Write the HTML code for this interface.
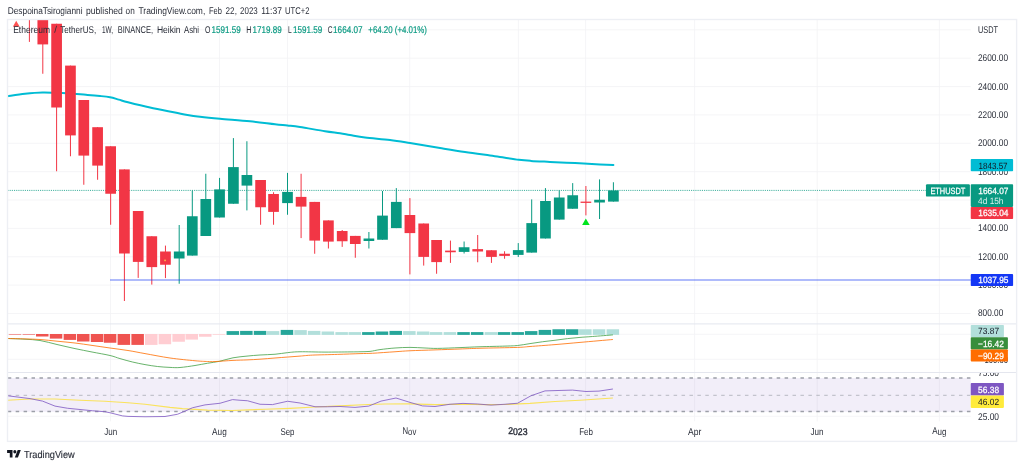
<!DOCTYPE html>
<html lang="en"><head><meta charset="utf-8"><title>ETHUSDT chart</title>
<style>
html,body{margin:0;padding:0;background:#fff;}
body{width:1024px;height:467px;overflow:hidden;}
svg{display:block;will-change:transform;transform:translateZ(0);font-family:"Liberation Sans",sans-serif;}
</style></head><body>
<svg width="1024" height="467" viewBox="0 0 1024 467">
<defs>
<clipPath id="cm"><rect x="7.5" y="19.5" width="1009.1" height="304.1"/></clipPath>
<clipPath id="cmacd"><rect x="7.5" y="323.6" width="963.25" height="48.89999999999998"/></clipPath>
<clipPath id="cax"><rect x="970" y="372.9" width="50" height="60"/></clipPath>
<clipPath id="crsi"><rect x="7.5" y="372.5" width="963.25" height="48.80000000000001"/></clipPath>
</defs>
<rect width="1024" height="467" fill="#fff"/>
<line x1="110.5" y1="19.5" x2="110.5" y2="421.3" stroke="#f3f3f5" stroke-width="0.8"/>
<line x1="219.5" y1="19.5" x2="219.5" y2="421.3" stroke="#f3f3f5" stroke-width="0.8"/>
<line x1="287.5" y1="19.5" x2="287.5" y2="421.3" stroke="#f3f3f5" stroke-width="0.8"/>
<line x1="409.7" y1="19.5" x2="409.7" y2="421.3" stroke="#f3f3f5" stroke-width="0.8"/>
<line x1="518.4" y1="19.5" x2="518.4" y2="421.3" stroke="#f3f3f5" stroke-width="0.8"/>
<line x1="585.6" y1="19.5" x2="585.6" y2="421.3" stroke="#f3f3f5" stroke-width="0.8"/>
<line x1="694.6" y1="19.5" x2="694.6" y2="421.3" stroke="#f3f3f5" stroke-width="0.8"/>
<line x1="817.2" y1="19.5" x2="817.2" y2="421.3" stroke="#f3f3f5" stroke-width="0.8"/>
<line x1="939.4" y1="19.5" x2="939.4" y2="421.3" stroke="#f3f3f5" stroke-width="0.8"/>
<line x1="7.5" y1="29.85" x2="970.75" y2="29.85" stroke="#f3f3f5" stroke-width="0.8"/>
<line x1="7.5" y1="58.21" x2="970.75" y2="58.21" stroke="#f3f3f5" stroke-width="0.8"/>
<line x1="7.5" y1="86.57" x2="970.75" y2="86.57" stroke="#f3f3f5" stroke-width="0.8"/>
<line x1="7.5" y1="114.93" x2="970.75" y2="114.93" stroke="#f3f3f5" stroke-width="0.8"/>
<line x1="7.5" y1="143.29" x2="970.75" y2="143.29" stroke="#f3f3f5" stroke-width="0.8"/>
<line x1="7.5" y1="171.65" x2="970.75" y2="171.65" stroke="#f3f3f5" stroke-width="0.8"/>
<line x1="7.5" y1="200.01" x2="970.75" y2="200.01" stroke="#f3f3f5" stroke-width="0.8"/>
<line x1="7.5" y1="228.37" x2="970.75" y2="228.37" stroke="#f3f3f5" stroke-width="0.8"/>
<line x1="7.5" y1="256.73" x2="970.75" y2="256.73" stroke="#f3f3f5" stroke-width="0.8"/>
<line x1="7.5" y1="285.09" x2="970.75" y2="285.09" stroke="#f3f3f5" stroke-width="0.8"/>
<line x1="7.5" y1="313.45" x2="970.75" y2="313.45" stroke="#f3f3f5" stroke-width="0.8"/>
<line x1="7.5" y1="334.3" x2="970.75" y2="334.3" stroke="#f3f3f5" stroke-width="0.8"/>
<line x1="7.5" y1="359.3" x2="970.75" y2="359.3" stroke="#f3f3f5" stroke-width="0.8"/>
<line x1="7.5" y1="416.3" x2="970.75" y2="416.3" stroke="#f3f3f5" stroke-width="0.8"/>
<rect x="7.5" y="378" width="963.25" height="33.75" fill="#7e57c2" fill-opacity="0.1"/>
<line x1="7.75" y1="378.1" x2="970.75" y2="378.1" stroke="#9c9fa8" stroke-width="1.5" stroke-dasharray="3.5 4.427"/>
<line x1="7.75" y1="395.3" x2="970.75" y2="395.3" stroke="#b0b3bb" stroke-width="0.9" stroke-dasharray="3.5 4.427"/>
<line x1="7.75" y1="411.6" x2="970.75" y2="411.6" stroke="#9c9fa8" stroke-width="1.5" stroke-dasharray="3.5 4.427"/>
<g clip-path="url(#cm)">
<path fill="none" stroke="#00bcd4" stroke-width="2" stroke-linejoin="round" stroke-linecap="round" d="M7.5,96.25 C10.42,95.83 19.17,94.38 25,93.75 C30.83,93.12 36.25,92.61 42.5,92.5 C48.75,92.39 55.00,92.70 62.5,93.1 C70.00,93.50 81.25,94.42 87.5,94.9 C93.75,95.38 96.25,95.60 100,96 C103.75,96.40 106.88,96.70 110,97.3 C113.12,97.90 115.75,98.78 118.75,99.6 C121.75,100.42 122.79,100.88 128,102.2 C133.21,103.52 142.17,105.78 150,107.5 C157.83,109.22 168.75,111.25 175,112.5 C181.25,113.75 183.33,114.29 187.5,115 C191.67,115.71 194.58,116.12 200,116.75 C205.42,117.38 211.67,118.00 220,118.75 C228.33,119.50 240.83,120.33 250,121.25 C259.17,122.17 268.75,123.54 275,124.25 C281.25,124.96 283.33,125.04 287.5,125.5 C291.67,125.96 293.75,126.04 300,127 C306.25,127.96 318.33,130.21 325,131.25 C331.67,132.29 335.83,132.62 340,133.25 C344.17,133.88 345.83,134.29 350,135 C354.17,135.71 358.33,136.67 365,137.5 C371.67,138.33 382.50,139.08 390,140 C397.50,140.92 401.67,141.67 410,143 C418.33,144.33 430.83,146.50 440,148 C449.17,149.50 456.67,150.75 465,152 C473.33,153.25 484.17,154.68 490,155.5 C495.83,156.32 495.21,156.19 500,156.9 C504.79,157.61 513.58,159.08 518.75,159.75 C523.92,160.42 525.79,160.54 531,160.9 C536.21,161.26 542.67,161.53 550,161.9 C557.33,162.27 566.67,162.68 575,163.1 C583.33,163.52 593.60,164.08 600,164.4 C606.40,164.72 611.17,164.90 613.4,165"/>
<line x1="7.5" y1="190.4" x2="926" y2="190.4" stroke="#089981" stroke-opacity="0.8" stroke-width="1" stroke-dasharray="1.08 1.09"/>
<line x1="29.40" y1="10" x2="29.40" y2="41.9" stroke="#f23645" stroke-width="1"/>
<rect x="24.05" y="-50" width="10.7" height="60.00" fill="#f23645"/>
<line x1="42.80" y1="10" x2="42.80" y2="73.75" stroke="#f23645" stroke-width="1"/>
<rect x="37.45" y="10" width="10.7" height="34.40" fill="#f23645"/>
<line x1="56.60" y1="23.75" x2="56.60" y2="171.25" stroke="#f23645" stroke-width="1"/>
<rect x="51.25" y="23.75" width="10.7" height="83.75" fill="#f23645"/>
<line x1="70.45" y1="65.6" x2="70.45" y2="156.25" stroke="#f23645" stroke-width="1"/>
<rect x="65.10" y="65.6" width="10.7" height="69.80" fill="#f23645"/>
<line x1="83.80" y1="100" x2="83.80" y2="184.75" stroke="#f23645" stroke-width="1"/>
<rect x="78.45" y="100" width="10.7" height="55.60" fill="#f23645"/>
<line x1="97.60" y1="127.2" x2="97.60" y2="179.75" stroke="#f23645" stroke-width="1"/>
<rect x="92.25" y="127.2" width="10.7" height="38.40" fill="#f23645"/>
<line x1="110.65" y1="146.25" x2="110.65" y2="224.75" stroke="#f23645" stroke-width="1"/>
<rect x="105.30" y="146.25" width="10.7" height="47.50" fill="#f23645"/>
<line x1="124.40" y1="169.4" x2="124.40" y2="301" stroke="#f23645" stroke-width="1"/>
<rect x="119.05" y="169.4" width="10.7" height="84.10" fill="#f23645"/>
<line x1="138.20" y1="211" x2="138.20" y2="277.9" stroke="#f23645" stroke-width="1"/>
<rect x="132.85" y="211" width="10.7" height="50.90" fill="#f23645"/>
<line x1="151.80" y1="236.25" x2="151.80" y2="284.6" stroke="#f23645" stroke-width="1"/>
<rect x="146.45" y="236.25" width="10.7" height="30.85" fill="#f23645"/>
<line x1="165.45" y1="245.6" x2="165.45" y2="278.1" stroke="#f23645" stroke-width="1"/>
<rect x="160.10" y="251.5" width="10.7" height="13.25" fill="#f23645"/>
<line x1="179.20" y1="225" x2="179.20" y2="283.75" stroke="#089981" stroke-width="1"/>
<rect x="173.85" y="251.5" width="10.7" height="7.00" fill="#089981"/>
<line x1="192.30" y1="190.6" x2="192.30" y2="255.6" stroke="#089981" stroke-width="1"/>
<rect x="186.95" y="216.25" width="10.7" height="39.35" fill="#089981"/>
<line x1="205.80" y1="173.75" x2="205.80" y2="236" stroke="#089981" stroke-width="1"/>
<rect x="200.45" y="199" width="10.7" height="37.00" fill="#089981"/>
<line x1="219.55" y1="177.9" x2="219.55" y2="217.5" stroke="#089981" stroke-width="1"/>
<rect x="214.20" y="189.4" width="10.7" height="28.10" fill="#089981"/>
<line x1="233.40" y1="138.1" x2="233.40" y2="203.75" stroke="#089981" stroke-width="1"/>
<rect x="228.05" y="167.1" width="10.7" height="36.65" fill="#089981"/>
<line x1="246.90" y1="141.25" x2="246.90" y2="210.4" stroke="#089981" stroke-width="1"/>
<rect x="241.55" y="175" width="10.7" height="10.60" fill="#089981"/>
<line x1="260.60" y1="180" x2="260.60" y2="224.75" stroke="#f23645" stroke-width="1"/>
<rect x="255.25" y="180" width="10.7" height="27.25" fill="#f23645"/>
<line x1="273.55" y1="192.25" x2="273.55" y2="224.75" stroke="#f23645" stroke-width="1"/>
<rect x="268.20" y="194" width="10.7" height="17.90" fill="#f23645"/>
<line x1="287.50" y1="172.9" x2="287.50" y2="214.75" stroke="#089981" stroke-width="1"/>
<rect x="282.15" y="191.9" width="10.7" height="11.20" fill="#089981"/>
<line x1="301.10" y1="173.75" x2="301.10" y2="238.1" stroke="#f23645" stroke-width="1"/>
<rect x="295.75" y="196.9" width="10.7" height="9.70" fill="#f23645"/>
<line x1="314.70" y1="201.9" x2="314.70" y2="253.75" stroke="#f23645" stroke-width="1"/>
<rect x="309.35" y="201.9" width="10.7" height="38.70" fill="#f23645"/>
<line x1="328.40" y1="220.4" x2="328.40" y2="248.5" stroke="#f23645" stroke-width="1"/>
<rect x="323.05" y="220.4" width="10.7" height="21.20" fill="#f23645"/>
<line x1="342.20" y1="230" x2="342.20" y2="246.9" stroke="#f23645" stroke-width="1"/>
<rect x="336.85" y="231" width="10.7" height="10.25" fill="#f23645"/>
<line x1="355.30" y1="235.9" x2="355.30" y2="257.75" stroke="#f23645" stroke-width="1"/>
<rect x="349.95" y="235.9" width="10.7" height="8.10" fill="#f23645"/>
<line x1="368.90" y1="232" x2="368.90" y2="248.5" stroke="#089981" stroke-width="1"/>
<rect x="363.55" y="238.5" width="10.7" height="2.50" fill="#089981"/>
<line x1="382.50" y1="191" x2="382.50" y2="239.75" stroke="#089981" stroke-width="1"/>
<rect x="377.15" y="215.6" width="10.7" height="24.15" fill="#089981"/>
<line x1="396.30" y1="188.1" x2="396.30" y2="228.1" stroke="#089981" stroke-width="1"/>
<rect x="390.95" y="201.9" width="10.7" height="26.20" fill="#089981"/>
<line x1="409.90" y1="198.1" x2="409.90" y2="274.4" stroke="#f23645" stroke-width="1"/>
<rect x="404.55" y="215" width="10.7" height="18.10" fill="#f23645"/>
<line x1="423.70" y1="223.5" x2="423.70" y2="265.6" stroke="#f23645" stroke-width="1"/>
<rect x="418.35" y="223.5" width="10.7" height="33.40" fill="#f23645"/>
<line x1="436.60" y1="240" x2="436.60" y2="273.75" stroke="#f23645" stroke-width="1"/>
<rect x="431.25" y="240" width="10.7" height="22.10" fill="#f23645"/>
<line x1="450.45" y1="240.6" x2="450.45" y2="262.9" stroke="#f23645" stroke-width="1"/>
<rect x="445.10" y="250.6" width="10.7" height="1.65" fill="#f23645"/>
<line x1="464.10" y1="241.5" x2="464.10" y2="253.5" stroke="#089981" stroke-width="1"/>
<rect x="458.75" y="247.25" width="10.7" height="4.65" fill="#089981"/>
<line x1="477.70" y1="235" x2="477.70" y2="262.25" stroke="#f23645" stroke-width="1"/>
<rect x="472.35" y="249.1" width="10.7" height="2.40" fill="#f23645"/>
<line x1="491.45" y1="250.25" x2="491.45" y2="262.9" stroke="#f23645" stroke-width="1"/>
<rect x="486.10" y="250.25" width="10.7" height="6.65" fill="#f23645"/>
<line x1="504.55" y1="251.25" x2="504.55" y2="258.75" stroke="#f23645" stroke-width="1"/>
<rect x="499.20" y="253.75" width="10.7" height="2.15" fill="#f23645"/>
<line x1="518.25" y1="243.1" x2="518.25" y2="257" stroke="#089981" stroke-width="1"/>
<rect x="512.90" y="250.1" width="10.7" height="4.80" fill="#089981"/>
<line x1="531.70" y1="199.4" x2="531.70" y2="252.6" stroke="#089981" stroke-width="1"/>
<rect x="526.35" y="223.1" width="10.7" height="29.50" fill="#089981"/>
<line x1="545.45" y1="188.1" x2="545.45" y2="238.5" stroke="#089981" stroke-width="1"/>
<rect x="540.10" y="201" width="10.7" height="37.50" fill="#089981"/>
<line x1="559.25" y1="190.4" x2="559.25" y2="219.6" stroke="#089981" stroke-width="1"/>
<rect x="553.90" y="197.5" width="10.7" height="22.10" fill="#089981"/>
<line x1="572.70" y1="183.1" x2="572.70" y2="208.75" stroke="#089981" stroke-width="1"/>
<rect x="567.35" y="195.25" width="10.7" height="13.50" fill="#089981"/>
<line x1="585.90" y1="186" x2="585.90" y2="215.4" stroke="#f23645" stroke-width="1"/>
<rect x="580.55" y="201.6" width="10.7" height="1.30" fill="#f23645"/>
<line x1="599.55" y1="179.4" x2="599.55" y2="219" stroke="#089981" stroke-width="1"/>
<rect x="594.20" y="199.75" width="10.7" height="2.75" fill="#089981"/>
<line x1="613.40" y1="182.25" x2="613.40" y2="201.6" stroke="#089981" stroke-width="1"/>
<rect x="608.05" y="190.4" width="10.7" height="11.20" fill="#089981"/>
<line x1="110" y1="280" x2="970.75" y2="280" stroke="#1437f5" stroke-opacity="0.45" stroke-width="1.6"/>
<rect x="164.4" y="259.6" width="1.3" height="1.6" fill="#ffd54f"/>
<polygon points="16.2,20.8 19.7,26.7 12.8,26.7" fill="#ff5252"/>
<polygon points="585.8,218.6 589.7,225.1 582.1,225.1" fill="#00e41e"/>
</g>
<g clip-path="url(#cmacd)">
<rect x="-4.87" y="334.0" width="12.5" height="0.90" fill="#26a69a"/>
<rect x="8.72" y="334.0" width="12.5" height="0.55" fill="#ef5350"/>
<rect x="22.60" y="334.0" width="12.5" height="0.60" fill="#ef5350"/>
<rect x="36.00" y="334.0" width="12.5" height="2.50" fill="#ef5350"/>
<rect x="49.80" y="334.0" width="12.5" height="4.60" fill="#ef5350"/>
<rect x="63.65" y="334.0" width="12.5" height="5.90" fill="#ef5350"/>
<rect x="77.00" y="334.0" width="12.5" height="7.50" fill="#ef5350"/>
<rect x="90.80" y="334.0" width="12.5" height="8.00" fill="#ef5350"/>
<rect x="103.85" y="334.0" width="12.5" height="8.75" fill="#ef5350"/>
<rect x="117.60" y="334.0" width="12.5" height="10.90" fill="#ef5350"/>
<rect x="131.40" y="334.0" width="12.5" height="10.90" fill="#ef5350"/>
<rect x="145.00" y="334.0" width="12.5" height="10.90" fill="#ffcdd2"/>
<rect x="158.65" y="334.0" width="12.5" height="10.25" fill="#ffcdd2"/>
<rect x="172.40" y="334.0" width="12.5" height="7.75" fill="#ffcdd2"/>
<rect x="185.50" y="334.0" width="12.5" height="5.60" fill="#ffcdd2"/>
<rect x="199.00" y="334.0" width="12.5" height="2.75" fill="#ffcdd2"/>
<rect x="212.75" y="334.0" width="12.5" height="0.70" fill="#ffcdd2"/>
<rect x="226.60" y="331.1" width="12.5" height="3.80" fill="#26a69a"/>
<rect x="240.10" y="330.9" width="12.5" height="4.00" fill="#26a69a"/>
<rect x="253.80" y="330.9" width="12.5" height="4.00" fill="#26a69a"/>
<rect x="266.75" y="331.1" width="12.5" height="3.80" fill="#b2dfdb"/>
<rect x="280.70" y="329.9" width="12.5" height="5.00" fill="#26a69a"/>
<rect x="294.30" y="330.1" width="12.5" height="4.80" fill="#b2dfdb"/>
<rect x="307.90" y="330.9" width="12.5" height="4.00" fill="#b2dfdb"/>
<rect x="321.60" y="331.5" width="12.5" height="3.40" fill="#b2dfdb"/>
<rect x="335.40" y="332.1" width="12.5" height="2.80" fill="#b2dfdb"/>
<rect x="348.50" y="332.1" width="12.5" height="2.80" fill="#b2dfdb"/>
<rect x="362.10" y="332.1" width="12.5" height="2.80" fill="#26a69a"/>
<rect x="375.70" y="331.5" width="12.5" height="3.40" fill="#26a69a"/>
<rect x="389.50" y="330.9" width="12.5" height="4.00" fill="#26a69a"/>
<rect x="403.10" y="331.1" width="12.5" height="3.80" fill="#b2dfdb"/>
<rect x="416.90" y="331.5" width="12.5" height="3.40" fill="#b2dfdb"/>
<rect x="429.80" y="332.1" width="12.5" height="2.80" fill="#b2dfdb"/>
<rect x="443.65" y="332.1" width="12.5" height="2.80" fill="#b2dfdb"/>
<rect x="457.30" y="332.1" width="12.5" height="2.80" fill="#26a69a"/>
<rect x="470.90" y="332.1" width="12.5" height="2.80" fill="#26a69a"/>
<rect x="484.65" y="332.1" width="12.5" height="2.80" fill="#b2dfdb"/>
<rect x="497.75" y="332.1" width="12.5" height="2.80" fill="#26a69a"/>
<rect x="511.45" y="332.1" width="12.5" height="2.80" fill="#26a69a"/>
<rect x="524.90" y="331.1" width="12.5" height="3.80" fill="#26a69a"/>
<rect x="538.65" y="329.9" width="12.5" height="5.00" fill="#26a69a"/>
<rect x="552.45" y="329.25" width="12.5" height="5.65" fill="#26a69a"/>
<rect x="565.90" y="329.25" width="12.5" height="5.65" fill="#26a69a"/>
<rect x="579.10" y="329.25" width="12.5" height="5.65" fill="#b2dfdb"/>
<rect x="592.75" y="329.25" width="12.5" height="5.65" fill="#b2dfdb"/>
<rect x="606.60" y="329.25" width="12.5" height="5.65" fill="#b2dfdb"/>
<path fill="none" stroke="#43a047" stroke-opacity="0.85" stroke-width="0.95" stroke-linejoin="round" d="M7.5,338.5 C10.42,338.62 19.58,338.87 25,339.2 C30.42,339.53 34.67,339.62 40,340.5 C45.33,341.38 51.17,343.15 57,344.5 C62.83,345.85 69.17,347.35 75,348.6 C80.83,349.85 86.17,350.85 92,352 C97.83,353.15 105.33,354.40 110,355.5 C114.67,356.60 116.25,357.52 120,358.6 C123.75,359.68 128.33,361.00 132.5,362 C136.67,363.00 140.83,363.85 145,364.6 C149.17,365.35 153.33,366.03 157.5,366.5 C161.67,366.97 166.25,367.23 170,367.4 C173.75,367.57 175.83,367.82 180,367.5 C184.17,367.18 190.42,366.21 195,365.5 C199.58,364.79 203.42,363.95 207.5,363.25 C211.58,362.55 215.25,362.21 219.5,361.3 C223.75,360.39 228.42,358.67 233,357.8 C237.58,356.93 242.50,356.57 247,356.1 C251.50,355.63 255.33,355.31 260,355 C264.67,354.69 270.42,354.64 275,354.25 C279.58,353.86 283.33,353.07 287.5,352.65 C291.67,352.23 293.75,351.84 300,351.75 C306.25,351.66 316.67,352.08 325,352.1 C333.33,352.12 344.17,351.96 350,351.9 C355.83,351.84 356.67,351.83 360,351.75 C363.33,351.67 366.67,351.76 370,351.4 C373.33,351.04 375.83,350.17 380,349.6 C384.17,349.03 390.00,348.37 395,348 C400.00,347.63 405.00,347.40 410,347.4 C415.00,347.40 420.42,347.83 425,348 C429.58,348.17 431.67,348.47 437.5,348.4 C443.33,348.33 452.92,347.88 460,347.6 C467.08,347.33 472.50,347.00 480,346.75 C487.50,346.50 498.75,346.31 505,346.1 C511.25,345.89 513.33,345.92 517.5,345.5 C521.67,345.08 525.83,344.23 530,343.6 C534.17,342.98 538.33,342.31 542.5,341.75 C546.67,341.19 550.83,340.77 555,340.25 C559.17,339.73 563.33,339.08 567.5,338.6 C571.67,338.12 575.83,337.75 580,337.4 C584.17,337.05 587.02,336.92 592.5,336.5 C597.98,336.08 609.50,335.17 612.9,334.9"/>
<path fill="none" stroke="#ff6d00" stroke-opacity="0.85" stroke-width="0.95" stroke-linejoin="round" d="M7.5,338.5 C10.42,338.57 19.58,338.73 25,338.9 C30.42,339.07 34.67,339.12 40,339.5 C45.33,339.88 51.17,340.62 57,341.2 C62.83,341.78 69.17,342.30 75,343 C80.83,343.70 86.17,344.57 92,345.4 C97.83,346.23 104.00,347.15 110,348 C116.00,348.85 122.17,349.57 128,350.5 C133.83,351.43 138.00,352.35 145,353.6 C152.00,354.85 161.67,356.81 170,358 C178.33,359.19 188.75,360.17 195,360.75 C201.25,361.33 204.17,361.37 207.5,361.5 C210.83,361.63 210.75,361.73 215,361.55 C219.25,361.37 227.67,360.67 233,360.4 C238.33,360.12 242.50,360.10 247,359.9 C251.50,359.70 255.33,359.52 260,359.2 C264.67,358.88 270.42,358.36 275,358 C279.58,357.64 283.33,357.37 287.5,357.05 C291.67,356.73 295.83,356.43 300,356.1 C304.17,355.78 306.25,355.38 312.5,355.1 C318.75,354.82 329.58,354.65 337.5,354.4 C345.42,354.15 354.17,353.79 360,353.6 C365.83,353.41 366.67,353.56 372.5,353.25 C378.33,352.94 388.75,352.17 395,351.75 C401.25,351.33 403.33,351.06 410,350.75 C416.67,350.44 426.67,350.19 435,349.9 C443.33,349.61 452.50,349.27 460,349 C467.50,348.73 470.42,348.52 480,348.25 C489.58,347.98 509.17,347.69 517.5,347.4 C525.83,347.11 523.75,346.97 530,346.5 C536.25,346.03 546.67,345.28 555,344.6 C563.33,343.92 570.35,343.25 580,342.4 C589.65,341.55 607.42,339.98 612.9,339.5"/>
</g>
<g clip-path="url(#crsi)">
<polyline fill="none" stroke="#fbe14a" stroke-opacity="0.9" stroke-width="1.2" stroke-linejoin="round" points="7.5,400.25 30,399 55,399 80,400.25 105,401.25 128,402.75 145,404.25 170,407.4 182.5,408.6 207.5,410.1 232.5,410.5 248,409.9 265,409.25 290,408.4 315,407 340,405.9 368,404.5 385,404 410,403.9 435,404.6 460,404.25 488,404.6 505,404.5 530,403.4 555,401.5 580,400.25 612.9,398"/>
<polyline fill="none" stroke="#7e57c2" stroke-opacity="0.85" stroke-width="0.95" stroke-linejoin="round" points="7.5,395.75 30,398.6 42.5,401.1 55,406.1 67.5,408.25 80,409.5 92.5,410.75 105,411.75 110,412.75 122.5,415.9 128,416.4 145,416.75 165,416.5 177.5,414.25 185,411.1 192.5,407.75 205,404.9 220,403.25 232.5,399.6 240,400.25 247.5,400.75 260,404.25 272.5,404.6 287.5,401.25 300,403 315,406.75 327.5,406.75 340,406.5 355,407.4 368.75,406.1 381,401.1 396,398 410,402.4 422.5,405.9 435,406.5 450,404.25 463,403.4 477.5,404 491,405.1 505,404.25 517.5,403.25 531,395.75 545,390.9 558,390.5 572.5,390.1 586,391.5 599,391.1 612.9,389"/>
</g>
<line x1="7.5" y1="323.9" x2="1016.6" y2="323.9" stroke="#e4e6ee" stroke-width="1"/>
<line x1="7.5" y1="372.5" x2="1016.6" y2="372.5" stroke="#e4e6ee" stroke-width="1"/>
<rect x="7.5" y="19.5" width="1009.1" height="421.9" fill="none" stroke="#edeff4" stroke-width="1.4"/>
<text y="13.5" transform="rotate(0.03 7.75 13.5)" font-size="9.8" fill="#2a2e39"><tspan x="7.75" textLength="74.75" lengthAdjust="spacingAndGlyphs">DespoinaTsirogianni</tspan> <tspan x="86" textLength="36.75" lengthAdjust="spacingAndGlyphs">published</tspan> <tspan x="125.6" textLength="9.15" lengthAdjust="spacingAndGlyphs">on</tspan> <tspan x="138.5" textLength="66.75" lengthAdjust="spacingAndGlyphs">TradingView.com,</tspan> <tspan x="209" textLength="12.90" lengthAdjust="spacingAndGlyphs">Feb</tspan> <tspan x="225.6" textLength="11.30" lengthAdjust="spacingAndGlyphs">22,</tspan> <tspan x="240.1" textLength="17.65" lengthAdjust="spacingAndGlyphs">2023</tspan> <tspan x="261.25" textLength="20.65" lengthAdjust="spacingAndGlyphs">11:37</tspan> <tspan x="285" textLength="24.40" lengthAdjust="spacingAndGlyphs">UTC+2</tspan></text>
<text y="32.8" transform="rotate(0.03 13.2 32.8)" font-size="9.8" fill="#2a2e39"><tspan x="13.2" textLength="36.80" lengthAdjust="spacingAndGlyphs">Ethereum</tspan> <tspan x="54.3" textLength="2.70" lengthAdjust="spacingAndGlyphs">/</tspan> <tspan x="60.25" textLength="36.00" lengthAdjust="spacingAndGlyphs">TetherUS,</tspan> <tspan x="101.9" textLength="11.20" lengthAdjust="spacingAndGlyphs">1W,</tspan> <tspan x="117.75" textLength="35.35" lengthAdjust="spacingAndGlyphs">BINANCE,</tspan> <tspan x="156.9" textLength="23.70" lengthAdjust="spacingAndGlyphs">Heikin</tspan> <tspan x="184" textLength="15.00" lengthAdjust="spacingAndGlyphs">Ashi</tspan></text>
<text x="205" y="32.8" transform="rotate(0.03 205 32.8)" font-size="9.8" fill="#2a2e39" textLength="5.4" lengthAdjust="spacingAndGlyphs">O</text>
<text x="211.5" y="32.8" transform="rotate(0.03 211.5 32.8)" font-size="9.8" fill="#089981" textLength="29.2" lengthAdjust="spacingAndGlyphs" stroke="#089981" stroke-width="0.2">1591.59</text>
<text x="246.3" y="32.8" transform="rotate(0.03 246.3 32.8)" font-size="9.8" fill="#2a2e39" textLength="5.2" lengthAdjust="spacingAndGlyphs">H</text>
<text x="252.6" y="32.8" transform="rotate(0.03 252.6 32.8)" font-size="9.8" fill="#089981" textLength="29.2" lengthAdjust="spacingAndGlyphs" stroke="#089981" stroke-width="0.2">1719.89</text>
<text x="287.9" y="32.8" transform="rotate(0.03 287.9 32.8)" font-size="9.8" fill="#2a2e39" textLength="3.7" lengthAdjust="spacingAndGlyphs">L</text>
<text x="293" y="32.8" transform="rotate(0.03 293 32.8)" font-size="9.8" fill="#089981" textLength="29.2" lengthAdjust="spacingAndGlyphs" stroke="#089981" stroke-width="0.2">1591.59</text>
<text x="327.8" y="32.8" transform="rotate(0.03 327.8 32.8)" font-size="9.8" fill="#2a2e39" textLength="4.8" lengthAdjust="spacingAndGlyphs">C</text>
<text x="333.1" y="32.8" transform="rotate(0.03 333.1 32.8)" font-size="9.8" fill="#089981" textLength="29.4" lengthAdjust="spacingAndGlyphs" stroke="#089981" stroke-width="0.2">1664.07</text>
<text x="368.3" y="32.8" transform="rotate(0.03 368.3 32.8)" font-size="9.8" fill="#089981" textLength="58.7" lengthAdjust="spacingAndGlyphs" stroke="#089981" stroke-width="0.2">+64.20 (+4.01%)</text>
<text x="978" y="32.5" transform="rotate(0.03 978 32.5)" font-size="9.8" fill="#2a2e39" textLength="20" lengthAdjust="spacingAndGlyphs">USDT</text>
<text x="978" y="61.29" transform="rotate(0.03 978 61.29)" font-size="9.8" fill="#2a2e39" textLength="30" lengthAdjust="spacingAndGlyphs">2600.00</text>
<text x="978" y="89.63" transform="rotate(0.03 978 89.63)" font-size="9.8" fill="#2a2e39" textLength="30" lengthAdjust="spacingAndGlyphs">2400.00</text>
<text x="978" y="117.97" transform="rotate(0.03 978 117.97)" font-size="9.8" fill="#2a2e39" textLength="30" lengthAdjust="spacingAndGlyphs">2200.00</text>
<text x="978" y="146.31" transform="rotate(0.03 978 146.31)" font-size="9.8" fill="#2a2e39" textLength="30" lengthAdjust="spacingAndGlyphs">2000.00</text>
<text x="978" y="174.65" transform="rotate(0.03 978 174.65)" font-size="9.8" fill="#2a2e39" textLength="30" lengthAdjust="spacingAndGlyphs">1800.00</text>
<text x="978" y="202.99" transform="rotate(0.03 978 202.99)" font-size="9.8" fill="#2a2e39" textLength="30" lengthAdjust="spacingAndGlyphs">1600.00</text>
<text x="978" y="231.33" transform="rotate(0.03 978 231.33)" font-size="9.8" fill="#2a2e39" textLength="30" lengthAdjust="spacingAndGlyphs">1400.00</text>
<text x="978" y="259.67" transform="rotate(0.03 978 259.67)" font-size="9.8" fill="#2a2e39" textLength="30" lengthAdjust="spacingAndGlyphs">1200.00</text>
<text x="978" y="288.01" transform="rotate(0.03 978 288.01)" font-size="9.8" fill="#2a2e39" textLength="30" lengthAdjust="spacingAndGlyphs">1000.00</text>
<text x="978" y="316.35" transform="rotate(0.03 978 316.35)" font-size="9.8" fill="#2a2e39" textLength="25.3" lengthAdjust="spacingAndGlyphs">800.00</text>
<text x="982" y="362.9" transform="rotate(0.03 982 362.9)" font-size="9.8" fill="#2a2e39" textLength="26" lengthAdjust="spacingAndGlyphs">-100.00</text>
<text x="978" y="376.1" transform="rotate(0.03 978 376.1)" font-size="9.8" fill="#2a2e39" textLength="21" lengthAdjust="spacingAndGlyphs" clip-path="url(#cax)">75.00</text>
<text x="978" y="419.7" transform="rotate(0.03 978 419.7)" font-size="9.8" fill="#2a2e39" textLength="21" lengthAdjust="spacingAndGlyphs">25.00</text>
<rect x="970.75" y="159.1" width="42.35" height="12.15" rx="0.8" fill="#00bcd4"/>
<text x="978.6" y="168.8" transform="rotate(0.03 978.6 168.8)" font-size="9.0" fill="#131722" textLength="29" lengthAdjust="spacingAndGlyphs">1843.57</text>
<rect x="970.75" y="184.25" width="42.35" height="22.65" rx="0.8" fill="#089981"/>
<text x="978.3" y="193.75" transform="rotate(0.03 978.3 193.75)" font-size="9.0" fill="#fff" textLength="30.2" lengthAdjust="spacingAndGlyphs" stroke="#fff" stroke-width="0.25">1664.07</text>
<text x="978.1" y="203.9" transform="rotate(0.03 978.1 203.9)" font-size="9.0" fill="#fff" textLength="25.4" lengthAdjust="spacingAndGlyphs" fill-opacity="0.85">4d 15h</text>
<rect x="970.75" y="206.9" width="42.35" height="12.1" rx="0.8" fill="#f23645"/>
<text x="978.3" y="216.3" transform="rotate(0.03 978.3 216.3)" font-size="9.0" fill="#fff" textLength="30.2" lengthAdjust="spacingAndGlyphs" stroke="#fff" stroke-width="0.25">1635.04</text>
<rect x="925.95" y="184.3" width="43.95" height="12.3" rx="1.2" fill="#089981"/>
<text x="930.4" y="193.7" transform="rotate(0.03 930.4 193.7)" font-size="9.0" fill="#fff" textLength="35.0" lengthAdjust="spacingAndGlyphs" stroke="#fff" stroke-width="0.25">ETHUSDT</text>
<rect x="970.75" y="274.1" width="42.35" height="11.9" rx="0.8" fill="#1437f5"/>
<text x="978.3" y="283.1" transform="rotate(0.03 978.3 283.1)" font-size="9.0" fill="#fff" textLength="30.2" lengthAdjust="spacingAndGlyphs" stroke="#fff" stroke-width="0.25">1037.95</text>
<rect x="970.75" y="325" width="33.15" height="12.25" rx="0.8" fill="#b2dfdb"/>
<text x="978.1" y="334.4" transform="rotate(0.03 978.1 334.4)" font-size="9.0" fill="#131722" textLength="21" lengthAdjust="spacingAndGlyphs">73.87</text>
<rect x="970.75" y="337.25" width="37.15" height="12.15" rx="0.8" fill="#388e3c"/>
<text x="978.1" y="346.8" transform="rotate(0.03 978.1 346.8)" font-size="9.0" fill="#fff" textLength="25.8" lengthAdjust="spacingAndGlyphs" stroke="#fff" stroke-width="0.25">−16.42</text>
<rect x="970.75" y="349.4" width="37.15" height="12.2" rx="0.8" fill="#ff6d00"/>
<text x="978.1" y="358.8" transform="rotate(0.03 978.1 358.8)" font-size="9.0" fill="#fff" textLength="25.8" lengthAdjust="spacingAndGlyphs" stroke="#fff" stroke-width="0.25">−90.29</text>
<rect x="970.75" y="383.1" width="33.15" height="12.5" rx="0.8" fill="#7e57c2"/>
<text x="978.1" y="392.7" transform="rotate(0.03 978.1 392.7)" font-size="9.0" fill="#fff" textLength="21" lengthAdjust="spacingAndGlyphs" stroke="#fff" stroke-width="0.25">56.38</text>
<rect x="970.75" y="395.6" width="33.15" height="12.3" rx="0.8" fill="#ffeb3b"/>
<text x="978.1" y="404.9" transform="rotate(0.03 978.1 404.9)" font-size="9.0" fill="#131722" textLength="21" lengthAdjust="spacingAndGlyphs">46.02</text>
<text x="104.35" y="434.5" transform="rotate(0.03 104.35 434.5)" font-size="9.8" fill="#2a2e39" textLength="12.9" lengthAdjust="spacingAndGlyphs">Jun</text>
<text x="212.10" y="434.5" transform="rotate(0.03 212.10 434.5)" font-size="9.8" fill="#2a2e39" textLength="14.6" lengthAdjust="spacingAndGlyphs">Aug</text>
<text x="280.50" y="434.5" transform="rotate(0.03 280.50 434.5)" font-size="9.8" fill="#2a2e39" textLength="14" lengthAdjust="spacingAndGlyphs">Sep</text>
<text x="402.50" y="434.5" transform="rotate(0.03 402.50 434.5)" font-size="9.8" fill="#2a2e39" textLength="13.8" lengthAdjust="spacingAndGlyphs">Nov</text>
<text x="579.20" y="434.5" transform="rotate(0.03 579.20 434.5)" font-size="9.8" fill="#2a2e39" textLength="13.8" lengthAdjust="spacingAndGlyphs">Feb</text>
<text x="687.95" y="434.5" transform="rotate(0.03 687.95 434.5)" font-size="9.8" fill="#2a2e39" textLength="13.3" lengthAdjust="spacingAndGlyphs">Apr</text>
<text x="810.50" y="434.5" transform="rotate(0.03 810.50 434.5)" font-size="9.8" fill="#2a2e39" textLength="13" lengthAdjust="spacingAndGlyphs">Jun</text>
<text x="932.20" y="434.5" transform="rotate(0.03 932.20 434.5)" font-size="9.8" fill="#2a2e39" textLength="14.2" lengthAdjust="spacingAndGlyphs">Aug</text>
<text x="508.2" y="434.5" transform="rotate(0.03 508.2 434.5)" font-size="9.8" fill="#2a2e39" textLength="19.3" lengthAdjust="spacingAndGlyphs" stroke="#2a2e39" stroke-width="0.4">2023</text>
<g transform="translate(7.1,448.46) scale(0.386,0.411)" fill="#131722"><path d="M14 22H7V11H0V4h14v18zM28 22h-8l7.5-18h8L28 22z"/><circle cx="20" cy="8" r="4"/></g>
<text x="24.0" y="457.5" transform="rotate(0.03 24.0 457.5)" font-size="10.2" fill="#2a2e39" textLength="50.7" lengthAdjust="spacingAndGlyphs" stroke="#2a2e39" stroke-width="0.15">TradingView</text>
</svg>
</body></html>
